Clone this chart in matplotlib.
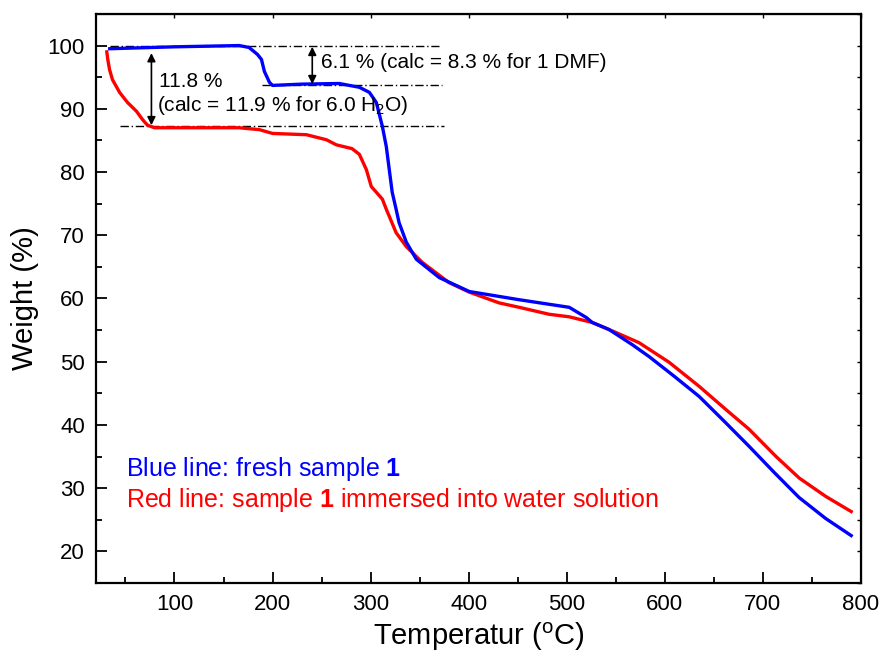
import matplotlib.pyplot as plt
from matplotlib.ticker import MultipleLocator

plt.rcParams['font.family'] = ['Liberation Sans', 'DejaVu Sans']
plt.rcParams['mathtext.fontset'] = 'custom'
plt.rcParams['mathtext.rm'] = 'Liberation Sans'
plt.rcParams['mathtext.it'] = 'Liberation Sans:italic'
plt.rcParams['mathtext.bf'] = 'Liberation Sans:bold'

# blue: fresh sample 1
blue_T = [34, 100, 166, 176, 184.6, 188.7, 191.7, 196.8, 199.9, 230, 268, 288.5, 298.7,
          305.8, 312, 316, 322, 326, 329, 336.4, 346.6, 370, 400.6, 451.5, 502.5, 519.8,
          526, 543, 566.7, 584, 609.5, 635, 660.4, 686, 711.4, 737, 764, 790]
blue_W = [99.5, 99.8, 100, 99.7, 98.6, 97.8, 95.9, 94.2, 93.7, 93.9, 94.0, 93.4, 92.6,
          91.0, 87.2, 84.0, 76.8, 74.1, 72.0, 68.9, 66.2, 63.3, 61.1, 59.8, 58.6, 57.0,
          56.2, 55.1, 52.7, 50.8, 47.7, 44.5, 40.6, 36.6, 32.5, 28.5, 25.2, 22.5]

# red: sample 1 immersed into water
red_T = [31, 32, 33.8, 36.8, 44, 52.1, 61.3, 67.4, 72.5, 79.6, 92.9, 166, 186.6, 200, 234.5,
         255, 265, 281, 288.5, 295.6, 300.7, 305.8, 312, 316, 319, 326, 336.4, 352.7,
         380, 400.6, 431, 451.5, 482, 502.5, 526, 550.4, 573.8, 604.4, 635, 662.5, 686,
         713.4, 737, 764, 790]
red_W = [99.0, 97.8, 96.2, 94.6, 92.6, 91.0, 89.6, 88.3, 87.4, 87.0, 87.0, 87.0, 86.7, 86.1,
         85.9, 85.1, 84.3, 83.7, 82.8, 80.4, 77.7, 76.8, 75.7, 74.1, 73.0, 70.4, 68.2,
         65.7, 62.5, 61.0, 59.3, 58.6, 57.5, 57.1, 56.2, 54.6, 53.0, 49.9, 46.1, 42.4, 39.3,
         35.0, 31.6, 28.7, 26.3]

# reference lines (y, x start, x end)
ref_y = [100, 93.7, 87.2]
ref_x0 = [34, 189, 44]
ref_x1 = [370, 373, 375]

fig = plt.figure(figsize=(8.89, 6.64), dpi=100)
ax = fig.add_axes([0.108, 0.122, 0.8605, 0.857])

for y, a, b in zip(ref_y, ref_x0, ref_x1):
    ax.plot([a, b], [y, y], color='black', lw=1, linestyle=(0, (6, 2, 1, 2)))

ax.plot(red_T, red_W, color='#ff0000', lw=2.4)
ax.plot(blue_T, blue_W, color='#0000ff', lw=2.4)

# arrows
arr = dict(arrowstyle='<|-|>', color='black', lw=1.2, mutation_scale=12, shrinkA=0, shrinkB=0)
ax.annotate('', xy=(76.5, 87.4), xytext=(76.5, 98.8), arrowprops=arr)
ax.annotate('', xy=(240.5, 93.9), xytext=(240.5, 99.8), arrowprops=arr)

ax.text(249, 97.3, '6.1 % (calc = 8.3 % for 1 DMF)', fontsize=15, va='center')
ax.text(84, 94.3, '11.8 %', fontsize=15, va='center')
ax.text(82, 90.5, '(calc = 11.9 % for 6.0 H$_2$O)', fontsize=15, va='center')

ax.text(51, 33.0, r'Blue line: fresh sample $\mathbf{1}$', fontsize=18, color='#0000ff', va='center')
ax.text(51, 28.2, r'Red line: sample $\mathbf{1}$ immersed into water solution', fontsize=18,
        color='#ff0000', va='center')

ax.set_xlim(20, 800)
ax.set_ylim(15, 105)
ax.xaxis.set_major_locator(MultipleLocator(100))
ax.xaxis.set_minor_locator(MultipleLocator(50))
ax.yaxis.set_major_locator(MultipleLocator(10))
ax.yaxis.set_minor_locator(MultipleLocator(5))
ax.tick_params(which='major', direction='in', length=8, width=1.3, labelsize=16, pad=8)
ax.tick_params(which='minor', direction='in', length=4, width=1.3)
for s in ax.spines.values():
    s.set_linewidth(1.6)

# tiny ticks on top and right
sx = ax.secondary_xaxis('top')
sx.xaxis.set_major_locator(MultipleLocator(100))
sx.tick_params(direction='in', length=3, width=1.0, labeltop=False)
sy = ax.secondary_yaxis('right')
sy.yaxis.set_major_locator(MultipleLocator(5))
sy.tick_params(direction='in', length=3, width=1.0, labelright=False)

ax.set_xlabel('Temperatur ($^{\\rm o}$C)', fontsize=21, labelpad=4)
ax.set_ylabel('Weight (%)', fontsize=21, labelpad=6)

fig.savefig('out.png', dpi=100)
